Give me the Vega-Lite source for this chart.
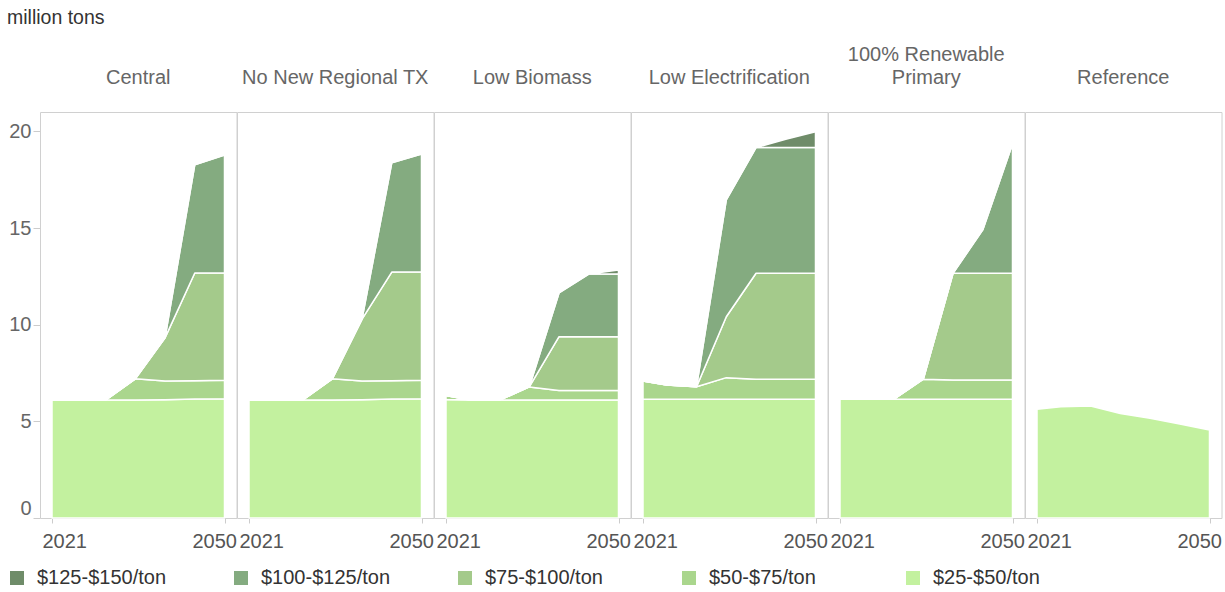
{
  "$schema": "https://vega.github.io/schema/vega-lite/v6.json",
  "padding": {"left": 7, "top": 7, "right": 5, "bottom": 5},
  "background": "white",
  "bounds": "flush",
  "title": {"text": "million tons", "anchor": "start", "frame": "bounds", "fontSize": 19.5, "font": "Liberation Sans", "fontWeight": "normal", "color": "#333333", "offset": 17},
  "datasets": {
    "tiers": [
      {"tier": "$25-$50/ton", "lo": 25},
      {"tier": "$50-$75/ton", "lo": 50},
      {"tier": "$75-$100/ton", "lo": 75},
      {"tier": "$100-$125/ton", "lo": 100},
      {"tier": "$125-$150/ton", "lo": 125}
    ],
    "main": [
      {"scenario": "Central", "year": 2021, "$25-$50/ton": 6.1, "$50-$75/ton": 0, "$75-$100/ton": 0, "$100-$125/ton": 0, "$125-$150/ton": 0},
      {"scenario": "Central", "year": 2025, "$25-$50/ton": 6.1, "$50-$75/ton": 0, "$75-$100/ton": 0, "$100-$125/ton": 0, "$125-$150/ton": 0},
      {"scenario": "Central", "year": 2030, "$25-$50/ton": 6.1, "$50-$75/ton": 0, "$75-$100/ton": 0, "$100-$125/ton": 0, "$125-$150/ton": 0},
      {"scenario": "Central", "year": 2035, "$25-$50/ton": 6.1, "$50-$75/ton": 1.1, "$75-$100/ton": 0, "$100-$125/ton": 0, "$125-$150/ton": 0},
      {"scenario": "Central", "year": 2040, "$25-$50/ton": 6.12, "$50-$75/ton": 0.97, "$75-$100/ton": 2.23, "$100-$125/ton": 0, "$125-$150/ton": 0},
      {"scenario": "Central", "year": 2045, "$25-$50/ton": 6.15, "$50-$75/ton": 0.95, "$75-$100/ton": 5.57, "$100-$125/ton": 5.6, "$125-$150/ton": 0},
      {"scenario": "Central", "year": 2050, "$25-$50/ton": 6.17, "$50-$75/ton": 0.95, "$75-$100/ton": 5.55, "$100-$125/ton": 6.1, "$125-$150/ton": 0},
      {"scenario": "No New Regional TX", "year": 2021, "$25-$50/ton": 6.1, "$50-$75/ton": 0, "$75-$100/ton": 0, "$100-$125/ton": 0, "$125-$150/ton": 0},
      {"scenario": "No New Regional TX", "year": 2025, "$25-$50/ton": 6.1, "$50-$75/ton": 0, "$75-$100/ton": 0, "$100-$125/ton": 0, "$125-$150/ton": 0},
      {"scenario": "No New Regional TX", "year": 2030, "$25-$50/ton": 6.1, "$50-$75/ton": 0, "$75-$100/ton": 0, "$100-$125/ton": 0, "$125-$150/ton": 0},
      {"scenario": "No New Regional TX", "year": 2035, "$25-$50/ton": 6.1, "$50-$75/ton": 1.1, "$75-$100/ton": 0, "$100-$125/ton": 0, "$125-$150/ton": 0},
      {"scenario": "No New Regional TX", "year": 2040, "$25-$50/ton": 6.12, "$50-$75/ton": 0.97, "$75-$100/ton": 3.2, "$100-$125/ton": 0, "$125-$150/ton": 0},
      {"scenario": "No New Regional TX", "year": 2045, "$25-$50/ton": 6.15, "$50-$75/ton": 0.95, "$75-$100/ton": 5.62, "$100-$125/ton": 5.65, "$125-$150/ton": 0},
      {"scenario": "No New Regional TX", "year": 2050, "$25-$50/ton": 6.17, "$50-$75/ton": 0.95, "$75-$100/ton": 5.6, "$100-$125/ton": 6.1, "$125-$150/ton": 0},
      {"scenario": "Low Biomass", "year": 2021, "$25-$50/ton": 6.13, "$50-$75/ton": 0.2, "$75-$100/ton": 0, "$100-$125/ton": 0, "$125-$150/ton": 0},
      {"scenario": "Low Biomass", "year": 2025, "$25-$50/ton": 6.1, "$50-$75/ton": 0, "$75-$100/ton": 0, "$100-$125/ton": 0, "$125-$150/ton": 0},
      {"scenario": "Low Biomass", "year": 2030, "$25-$50/ton": 6.1, "$50-$75/ton": 0, "$75-$100/ton": 0, "$100-$125/ton": 0, "$125-$150/ton": 0},
      {"scenario": "Low Biomass", "year": 2035, "$25-$50/ton": 6.1, "$50-$75/ton": 0.68, "$75-$100/ton": 0, "$100-$125/ton": 0, "$125-$150/ton": 0},
      {"scenario": "Low Biomass", "year": 2040, "$25-$50/ton": 6.1, "$50-$75/ton": 0.5, "$75-$100/ton": 2.78, "$100-$125/ton": 2.26, "$125-$150/ton": 0},
      {"scenario": "Low Biomass", "year": 2045, "$25-$50/ton": 6.1, "$50-$75/ton": 0.5, "$75-$100/ton": 2.78, "$100-$125/ton": 3.24, "$125-$150/ton": 0},
      {"scenario": "Low Biomass", "year": 2050, "$25-$50/ton": 6.1, "$50-$75/ton": 0.5, "$75-$100/ton": 2.78, "$100-$125/ton": 3.24, "$125-$150/ton": 0.21},
      {"scenario": "Low Electrification", "year": 2021, "$25-$50/ton": 6.14, "$50-$75/ton": 0.95, "$75-$100/ton": 0, "$100-$125/ton": 0, "$125-$150/ton": 0},
      {"scenario": "Low Electrification", "year": 2025, "$25-$50/ton": 6.14, "$50-$75/ton": 0.74, "$75-$100/ton": 0, "$100-$125/ton": 0, "$125-$150/ton": 0},
      {"scenario": "Low Electrification", "year": 2030, "$25-$50/ton": 6.14, "$50-$75/ton": 0.65, "$75-$100/ton": 0, "$100-$125/ton": 0, "$125-$150/ton": 0},
      {"scenario": "Low Electrification", "year": 2035, "$25-$50/ton": 6.14, "$50-$75/ton": 1.12, "$75-$100/ton": 3.15, "$100-$125/ton": 6.04, "$125-$150/ton": 0},
      {"scenario": "Low Electrification", "year": 2040, "$25-$50/ton": 6.14, "$50-$75/ton": 1.04, "$75-$100/ton": 5.48, "$100-$125/ton": 6.5, "$125-$150/ton": 0},
      {"scenario": "Low Electrification", "year": 2045, "$25-$50/ton": 6.14, "$50-$75/ton": 1.04, "$75-$100/ton": 5.48, "$100-$125/ton": 6.5, "$125-$150/ton": 0.43},
      {"scenario": "Low Electrification", "year": 2050, "$25-$50/ton": 6.14, "$50-$75/ton": 1.04, "$75-$100/ton": 5.48, "$100-$125/ton": 6.5, "$125-$150/ton": 0.82},
      {"scenario": "100% Renewable Primary", "year": 2021, "$25-$50/ton": 6.14, "$50-$75/ton": 0, "$75-$100/ton": 0, "$100-$125/ton": 0, "$125-$150/ton": 0},
      {"scenario": "100% Renewable Primary", "year": 2025, "$25-$50/ton": 6.14, "$50-$75/ton": 0, "$75-$100/ton": 0, "$100-$125/ton": 0, "$125-$150/ton": 0},
      {"scenario": "100% Renewable Primary", "year": 2030, "$25-$50/ton": 6.14, "$50-$75/ton": 0, "$75-$100/ton": 0, "$100-$125/ton": 0, "$125-$150/ton": 0},
      {"scenario": "100% Renewable Primary", "year": 2035, "$25-$50/ton": 6.14, "$50-$75/ton": 1.04, "$75-$100/ton": 0, "$100-$125/ton": 0, "$125-$150/ton": 0},
      {"scenario": "100% Renewable Primary", "year": 2040, "$25-$50/ton": 6.14, "$50-$75/ton": 1.0, "$75-$100/ton": 5.52, "$100-$125/ton": 0, "$125-$150/ton": 0},
      {"scenario": "100% Renewable Primary", "year": 2045, "$25-$50/ton": 6.14, "$50-$75/ton": 1.0, "$75-$100/ton": 5.52, "$100-$125/ton": 2.24, "$125-$150/ton": 0},
      {"scenario": "100% Renewable Primary", "year": 2050, "$25-$50/ton": 6.14, "$50-$75/ton": 1.0, "$75-$100/ton": 5.52, "$100-$125/ton": 6.69, "$125-$150/ton": 0.2},
      {"scenario": "Reference", "year": 2021, "$25-$50/ton": 5.62},
      {"scenario": "Reference", "year": 2025, "$25-$50/ton": 5.76},
      {"scenario": "Reference", "year": 2030, "$25-$50/ton": 5.79},
      {"scenario": "Reference", "year": 2035, "$25-$50/ton": 5.41},
      {"scenario": "Reference", "year": 2040, "$25-$50/ton": 5.16},
      {"scenario": "Reference", "year": 2045, "$25-$50/ton": 4.86},
      {"scenario": "Reference", "year": 2050, "$25-$50/ton": 4.55}
    ]
  },
  "data": {"name": "main"},
  "transform": [
    {"fold": ["$25-$50/ton", "$50-$75/ton", "$75-$100/ton", "$100-$125/ton", "$125-$150/ton"], "as": ["tier", "value"]},
    {"filter": "isValid(datum.value)"},
    {"lookup": "tier", "from": {"data": {"name": "tiers"}, "key": "tier", "fields": ["lo"]}}
  ],
  "spacing": 0,
  "facet": {
    "column": {
      "field": "scenario",
      "type": "nominal",
      "sort": ["Central", "No New Regional TX", "Low Biomass", "Low Electrification", "100% Renewable Primary", "Reference"],
      "header": {
        "title": null,
        "labelFontSize": 20,
        "labelFont": "Liberation Sans",
        "labelColor": "#666666",
        "labelPadding": 14,
        "labelBaseline": "middle",
        "labelLineHeight": 23,
        "labelExpr": "datum.value == '100% Renewable Primary' ? ['100% Renewable', 'Primary'] : datum.label"
      }
    }
  },
  "spec": {
    "width": 196.5,
    "height": 406,
    "mark": {"type": "area", "stroke": "white", "strokeWidth": 1.5, "strokeJoin": "round", "opacity": 1},
    "encoding": {
      "x": {
        "field": "year",
        "type": "quantitative",
        "scale": {"domain": [2021, 2050], "padding": 12, "nice": false, "zero": false},
        "axis": {
          "values": [2021, 2050],
          "title": null,
          "domain": false,
          "grid": false,
          "format": "d",
          "tickColor": "#cccccc",
          "tickSize": 5,
          "labelFontSize": 20,
          "labelFont": "Liberation Sans",
          "labelColor": "#555555",
          "labelPadding": 8,
          "labelAlign": {"condition": {"test": "datum.value == 2021", "value": "left"}, "value": "right"},
          "labelOffset": {"condition": {"test": "datum.value == 2021", "value": -10}, "value": 12}
        }
      },
      "y": {
        "field": "value",
        "type": "quantitative",
        "stack": "zero",
        "scale": {"domain": [0, 21], "nice": false},
        "axis": {
          "values": [0, 5, 10, 15, 20],
          "title": null,
          "domain": false,
          "grid": false,
          "tickColor": "#cccccc",
          "tickSize": 7,
          "labelPadding": 2,
          "labelFontSize": 20,
          "labelFont": "Liberation Sans",
          "labelColor": "#666666",
          "labelFlush": true
        }
      },
      "color": {
        "field": "tier",
        "type": "nominal",
        "scale": {
          "domain": ["$125-$150/ton", "$100-$125/ton", "$75-$100/ton", "$50-$75/ton", "$25-$50/ton"],
          "range": ["#6f8c69", "#84ab80", "#a4ca8b", "#aad68d", "#c3f19f"]
        },
        "legend": {
          "title": null,
          "orient": "none",
          "legendX": -33,
          "legendY": 456,
          "direction": "horizontal",
          "columns": 5,
          "gridAlign": "all",
          "columnPadding": 64,
          "symbolType": "square",
          "symbolSize": 196,
          "symbolStrokeWidth": 0,
          "symbolOpacity": 1,
          "labelFontSize": 20,
          "labelFont": "Liberation Sans",
          "labelColor": "#333333",
          "labelOffset": 10
        }
      },
      "order": {"field": "lo", "type": "quantitative", "sort": "ascending"}
    }
  },
  "config": {
    "view": {"stroke": "#d0d0d0", "strokeWidth": 1},
    "font": "Liberation Sans"
  }
}
